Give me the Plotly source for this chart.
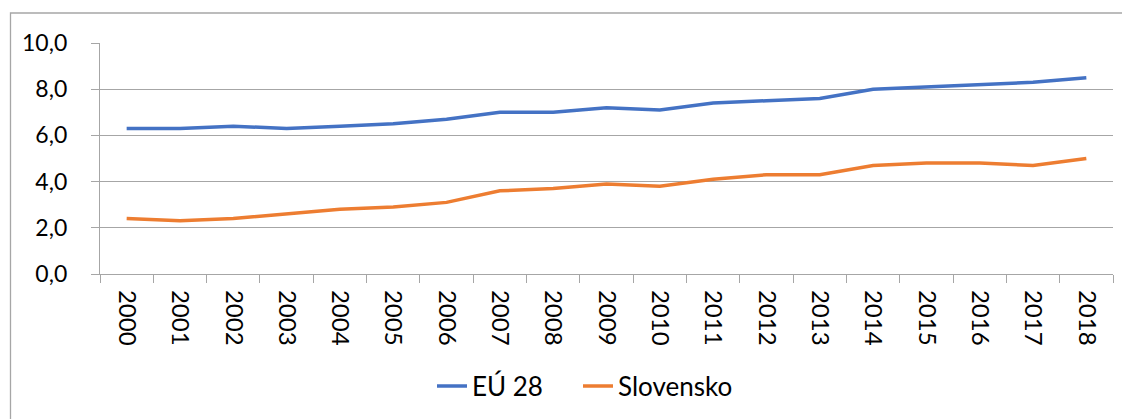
import plotly.graph_objects as go

years = [str(y) for y in range(2000, 2019)]
eu28 = [6.3, 6.3, 6.4, 6.3, 6.4, 6.5, 6.7, 7.0, 7.0, 7.2, 7.1, 7.4, 7.5, 7.6, 8.0, 8.1, 8.2, 8.3, 8.5]
slovensko = [2.4, 2.3, 2.4, 2.6, 2.8, 2.9, 3.1, 3.6, 3.7, 3.9, 3.8, 4.1, 4.3, 4.3, 4.7, 4.8, 4.8, 4.7, 5.0]
y_ticks = [0, 2, 4, 6, 8, 10]

# page has an 8px body margin; work in page coordinates and convert
OFF = 8
W, H = 1130 - OFF, 419 - OFF
L, R, T, B = 100 - OFF, 17, 43 - OFF, 145
pw, ph = W - L - R, H - T - B

fig = go.Figure()
fig.add_trace(go.Scatter(x=years, y=eu28, name="EÚ 28", mode="lines",
                         line=dict(color="#4472C4", width=3.5), legend="legend"))
fig.add_trace(go.Scatter(x=years, y=slovensko, name="Slovensko", mode="lines",
                         line=dict(color="#ED7D31", width=3.5), legend="legend2"))

def px_x(p):
    return (p - OFF - L) / pw

def px_y(p):
    return (H - B - (p - OFF)) / ph

fig.add_shape(type="rect", xref="paper", yref="paper",
              x0=px_x(10.5), x1=px_x(1140), y0=px_y(430), y1=px_y(13),
              line=dict(color="#A6A6A6", width=1.3), fillcolor="rgba(0,0,0,0)", layer="below")

leg_common = dict(orientation="h", xanchor="left", y=px_y(386), yanchor="middle",
                  font=dict(size=26), tracegroupgap=0, bgcolor="rgba(0,0,0,0)")

fig.update_layout(
    width=W, height=H,
    margin=dict(l=L, r=R, t=T, b=B, autoexpand=False),
    paper_bgcolor="white", plot_bgcolor="white",
    separators=",.",
    font=dict(family="Lato, 'Open Sans', sans-serif", color="#000000", size=22),
    showlegend=True,
    legend=dict(x=px_x(432), **leg_common),
    legend2=dict(x=px_x(578), **leg_common),
    xaxis=dict(type="category", tickson="boundaries", ticks="outside", ticklen=8,
               tickcolor="#A6A6A6", tickwidth=1.3, showline=True, linecolor="#A6A6A6",
               linewidth=1.3, showgrid=False, tickangle=90, ticklabelstandoff=10,
               tickfont=dict(size=24), range=[-0.5, 18.5], automargin=False),
    yaxis=dict(range=[0, 10], tickvals=y_ticks, tickformat=".1f", ticks="outside",
               ticklen=8, tickcolor="#A6A6A6", tickwidth=1.3, showline=True,
               linecolor="#A6A6A6", linewidth=1.3, showgrid=True, gridcolor="#A6A6A6",
               gridwidth=1.3, zeroline=False, tickfont=dict(size=23), ticklabelstandoff=19,
               automargin=False),
)

fig.write_html("out.html")
